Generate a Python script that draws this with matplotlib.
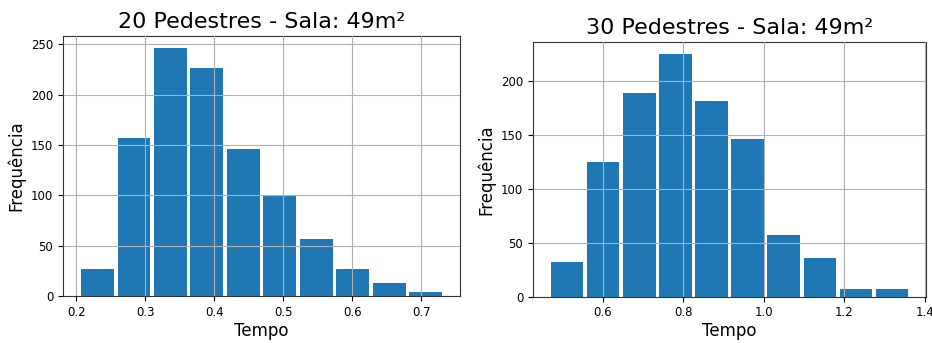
import matplotlib
matplotlib.use('Agg')
import matplotlib.pyplot as plt
import numpy as np

edges_20 = np.linspace(0.204, 0.733, 11)
counts_20 = [27, 157, 246, 227, 146, 100, 57, 27, 13, 4]

edges_30 = np.linspace(0.466, 1.363, 11)
counts_30 = [32, 125, 189, 225, 182, 146, 57, 36, 7, 7]

titles = ['20 Pedestres - Sala: 49m²', '30 Pedestres - Sala: 49m²']


def draw_hist(ax, edges, counts, title):
    centers = (edges[:-1] + edges[1:]) / 2
    ax.hist(centers, bins=edges, weights=counts, rwidth=0.9, color='#1f77b4', zorder=1)
    ax.grid(True, color='#b0b0b0', linewidth=0.8)
    ax.set_axisbelow(False)
    ax.set_title(title, fontsize=16)
    ax.set_xlabel('Tempo', fontsize=12, labelpad=2)
    ax.set_ylabel('Frequência', fontsize=12)
    ax.tick_params(labelsize=8.5)
    for s in ax.spines.values():
        s.set_color('#333333')


fig = plt.figure(figsize=(9.32, 3.43), dpi=100)
ax1 = fig.add_axes([0.0676, 0.137, 0.426, 0.758])
ax2 = fig.add_axes([0.5719, 0.135, 0.4217, 0.742])

draw_hist(ax1, edges_20, counts_20, titles[0])
draw_hist(ax2, edges_30, counts_30, titles[1])

fig.savefig('out.png', dpi=100)
